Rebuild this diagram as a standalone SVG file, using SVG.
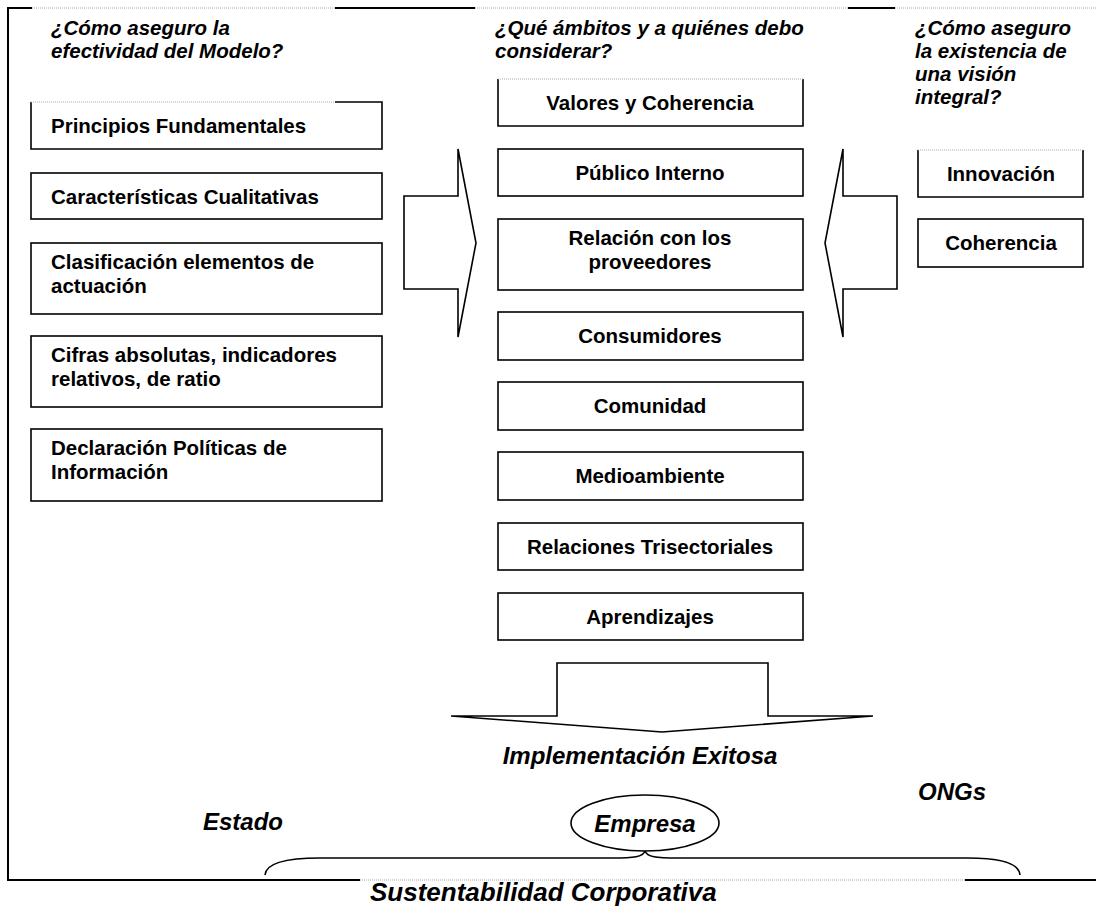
<svg xmlns="http://www.w3.org/2000/svg" width="1096" height="911" viewBox="0 0 1096 911">
<style>
 .box{fill:#fff;stroke:#000;stroke-width:1.6}
 .edge{fill:none;stroke:#000;stroke-width:1.6}
 .t{font-family:"Liberation Sans",Arial,sans-serif;font-weight:bold;font-size:20.5px;fill:#000}
 .c{text-anchor:middle}
 .q{font-family:"Liberation Sans",Arial,sans-serif;font-weight:bold;font-style:italic;font-size:20.5px;fill:#000}
 .big{font-family:"Liberation Sans",Arial,sans-serif;font-weight:bold;font-style:italic;font-size:24px;fill:#000}
 .frame{stroke:#000;stroke-width:2;fill:none}
 .dot{stroke:#aaa;stroke-width:1;stroke-dasharray:1 1;fill:none}
 .arrow{fill:#fff;stroke:#000;stroke-width:1.6;stroke-linejoin:miter}
</style>
<rect width="1096" height="911" fill="#fff"/>

<g id="frame">
 <line x1="8" y1="7" x2="8" y2="881" class="frame"/>
 <line x1="7" y1="8" x2="32" y2="8" class="frame"/>
 <line x1="32" y1="8" x2="335" y2="8" class="dot"/>
 <line x1="335" y1="8" x2="475" y2="8" class="frame"/>
 <line x1="475" y1="8" x2="848" y2="8" class="dot"/>
 <line x1="848" y1="8" x2="895" y2="8" class="frame"/>
 <line x1="895" y1="8" x2="1096" y2="8" class="dot"/>
 <line x1="7" y1="880" x2="360" y2="880" class="frame"/>
 <line x1="360" y1="880" x2="965" y2="880" class="dot"/>
 <line x1="965" y1="880" x2="1096" y2="880" class="frame"/>
</g>

<g id="titles">
 <text class="q" x="51" y="35">¿Cómo aseguro la</text>
 <text class="q" x="51" y="58">efectividad del Modelo?</text>
 <text class="q" x="495" y="35">¿Qué ámbitos y a quiénes debo</text>
 <text class="q" x="495" y="58">considerar?</text>
 <text class="q" x="915" y="35">¿Cómo aseguro</text>
 <text class="q" x="915" y="58">la existencia de</text>
 <text class="q" x="915" y="81">una visión</text>
 <text class="q" x="915" y="104">integral?</text>
</g>

<g id="connectors">
 <polygon class="arrow" points="404,196 458,196 458,149 476,243 458,337 458,289 404,289"/>
 <polygon class="arrow" points="897,196 843,196 843,149 825,243 843,337 843,289 897,289"/>
 <polygon class="arrow" points="557,663 768,663 768,716 873,716 662,732 451,716 557,716"/>
 <path class="edge" d="M265,875 C266,862 290,858 320,858 L612,858 C634,858 643,857 645,851 C647,857 656,858 678,858 L968,858 C998,858 1019,862 1020,875"/>
</g>

<g id="n-principios">
 <path class="edge" d="M335,102 L382,102 L382,149 L31,149 L31,102"/>
 <line x1="31" y1="102" x2="335" y2="102" class="dot"/>
 <text class="t" x="51" y="133">Principios Fundamentales</text>
</g>
<g id="n-caracteristicas">
 <rect class="box" x="31" y="173" width="351" height="46"/>
 <text class="t" x="51" y="204">Características Cualitativas</text>
</g>
<g id="n-clasificacion">
 <rect class="box" x="31" y="243" width="351" height="71"/>
 <text class="t" x="51" y="269">Clasificación elementos de</text>
 <text class="t" x="51" y="293">actuación</text>
</g>
<g id="n-cifras">
 <rect class="box" x="31" y="336" width="351" height="71"/>
 <text class="t" x="51" y="362">Cifras absolutas, indicadores</text>
 <text class="t" x="51" y="386">relativos, de ratio</text>
</g>
<g id="n-declaracion">
 <rect class="box" x="31" y="429" width="351" height="72"/>
 <text class="t" x="51" y="455">Declaración Políticas de</text>
 <text class="t" x="51" y="479">Información</text>
</g>

<g id="n-valores">
 <path class="edge" d="M803,79 L803,126 L498,126 L498,79"/>
 <line x1="498" y1="79" x2="803" y2="79" class="dot"/>
 <text class="t c" x="650" y="110">Valores y Coherencia</text>
</g>
<g id="n-publico">
 <rect class="box" x="498" y="149" width="305" height="47"/>
 <text class="t c" x="650" y="180">Público Interno</text>
</g>
<g id="n-proveedores">
 <rect class="box" x="498" y="219" width="305" height="71"/>
 <text class="t c" x="650" y="245">Relación con los</text>
 <text class="t c" x="650" y="269">proveedores</text>
</g>
<g id="n-consumidores">
 <rect class="box" x="498" y="312" width="305" height="48"/>
 <text class="t c" x="650" y="343">Consumidores</text>
</g>
<g id="n-comunidad">
 <rect class="box" x="498" y="382" width="305" height="48"/>
 <text class="t c" x="650" y="413">Comunidad</text>
</g>
<g id="n-medioambiente">
 <rect class="box" x="498" y="452" width="305" height="48"/>
 <text class="t c" x="650" y="483">Medioambiente</text>
</g>
<g id="n-trisectoriales">
 <rect class="box" x="498" y="523" width="305" height="47"/>
 <text class="t c" x="650" y="554">Relaciones Trisectoriales</text>
</g>
<g id="n-aprendizajes">
 <rect class="box" x="498" y="593" width="305" height="47"/>
 <text class="t c" x="650" y="624">Aprendizajes</text>
</g>

<g id="n-innovacion">
 <path class="edge" d="M1083,150 L1083,197 L918,197 L918,150"/>
 <line x1="918" y1="150" x2="1083" y2="150" class="dot"/>
 <text class="t c" x="1001" y="181">Innovación</text>
</g>
<g id="n-coherencia">
 <rect class="box" x="918" y="219" width="165" height="48"/>
 <text class="t c" x="1001" y="250">Coherencia</text>
</g>

<g id="n-implementacion">
 <text class="big c" x="640" y="764">Implementación Exitosa</text>
</g>
<g id="n-empresa">
 <ellipse cx="645" cy="823" rx="74" ry="28" class="box"/>
 <text class="big c" x="645" y="832">Empresa</text>
</g>
<g id="n-estado">
 <text class="big" x="203" y="830">Estado</text>
</g>
<g id="n-ongs">
 <text class="big" x="918" y="800">ONGs</text>
</g>
<g id="n-sustentabilidad">
 <text class="big" x="370" y="901" style="font-size:26px">Sustentabilidad Corporativa</text>
</g>
</svg>
